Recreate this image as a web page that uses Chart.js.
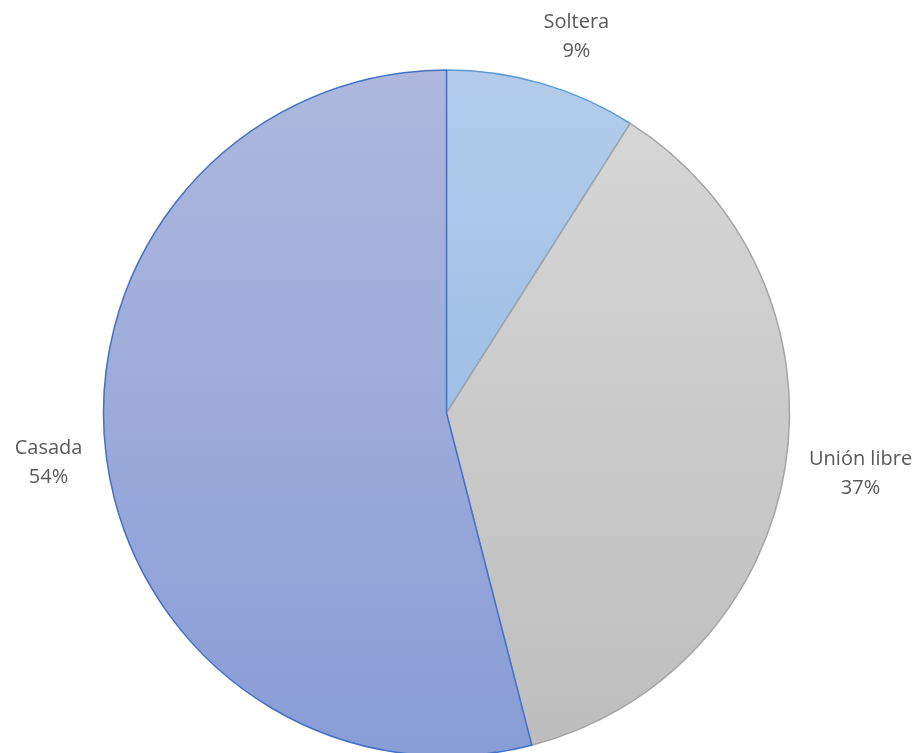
<!DOCTYPE html>
<html>
<head>
<meta charset="utf-8">
<title>Estado civil</title>
<script src="https://cdn.jsdelivr.net/npm/chart.js@4"></script>
<style>
    html, body { margin: 0; padding: 0; background: #ffffff; }
    #wrap { width: 924px; height: 753px; }
</style>
</head>
<body>
<div id="wrap"><canvas id="pieChart" width="924" height="753"></canvas></div>
<script>
// categorías y porcentajes
const categorias = ['Soltera', 'Unión libre', 'Casada'];
const porcentajes = [9, 37, 54];

// colores de cada sector (degradado de arriba a abajo) y borde
const coloresArriba = ['#b3ccea', '#d8d8d8', '#aeb8de'];
const coloresAbajo = ['#8bb2e2', '#bdbdbd', '#889dd6'];
const coloresBorde = ['#5b9bd5', '#a5a5a5', '#4472c4'];

function degradado(ctx, chartArea, i, radio) {
    const cy = (chartArea.top + chartArea.bottom) / 2;
    const g = ctx.createLinearGradient(0, cy - radio, 0, cy + radio);
    g.addColorStop(0, coloresArriba[i]);
    g.addColorStop(1, coloresAbajo[i]);
    return g;
}

// etiquetas fuera del sector: nombre y porcentaje
const etiquetasFuera = {
    id: 'etiquetasFuera',
    afterDatasetsDraw(chart) {
        const ctx = chart.ctx;
        const meta = chart.getDatasetMeta(0);
        const interlinea = 29;
        ctx.save();
        ctx.fillStyle = '#595959';
        ctx.font = '20px "Open Sans", sans-serif';
        ctx.textAlign = 'center';
        ctx.textBaseline = 'middle';
        meta.data.forEach((arc, i) => {
            const p = arc.getProps(['x', 'y', 'startAngle', 'endAngle', 'outerRadius'], true);
            const medio = (p.startAngle + p.endAngle) / 2;
            const dx = Math.cos(medio);
            const dy = Math.sin(medio);
            const lineas = [categorias[i], porcentajes[i] + '%'];
            const ancho = Math.max(...lineas.map(t => ctx.measureText(t).width));
            const alto = interlinea * 2;
            // punto de anclaje justo fuera del borde, y la caja se aparta hacia fuera
            const ax = p.x + dx * (p.outerRadius + 24);
            const ay = p.y + dy * (p.outerRadius + 24);
            const x = ax + Math.sign(dx) * Math.min(1, Math.abs(dx) * 3) * ancho / 2;
            const y = ay + dy * Math.abs(dy) * alto / 2 + 3;
            ctx.fillText(lineas[0], x, y - interlinea / 2);
            ctx.fillText(lineas[1], x, y + interlinea / 2);
        });
        ctx.restore();
    }
};

const ctx = document.getElementById('pieChart').getContext('2d');
const RADIO = 343;

new Chart(ctx, {
    type: 'pie',
    data: {
        labels: categorias,
        datasets: [{
            data: porcentajes,
            backgroundColor: (c) => {
                const area = c.chart.chartArea;
                if (!area) return coloresAbajo[c.dataIndex];
                return degradado(c.chart.ctx, area, c.dataIndex, RADIO);
            },
            borderColor: coloresBorde,
            borderWidth: 1.5
        }]
    },
    options: {
        responsive: false,
        animation: false,
        radius: RADIO,
        layout: { padding: { left: 0, right: 31, top: 73, bottom: 0 } },
        plugins: {
            legend: { display: false },
            tooltip: { enabled: false }
        }
    },
    plugins: [etiquetasFuera]
});
</script>
</body>
</html>
